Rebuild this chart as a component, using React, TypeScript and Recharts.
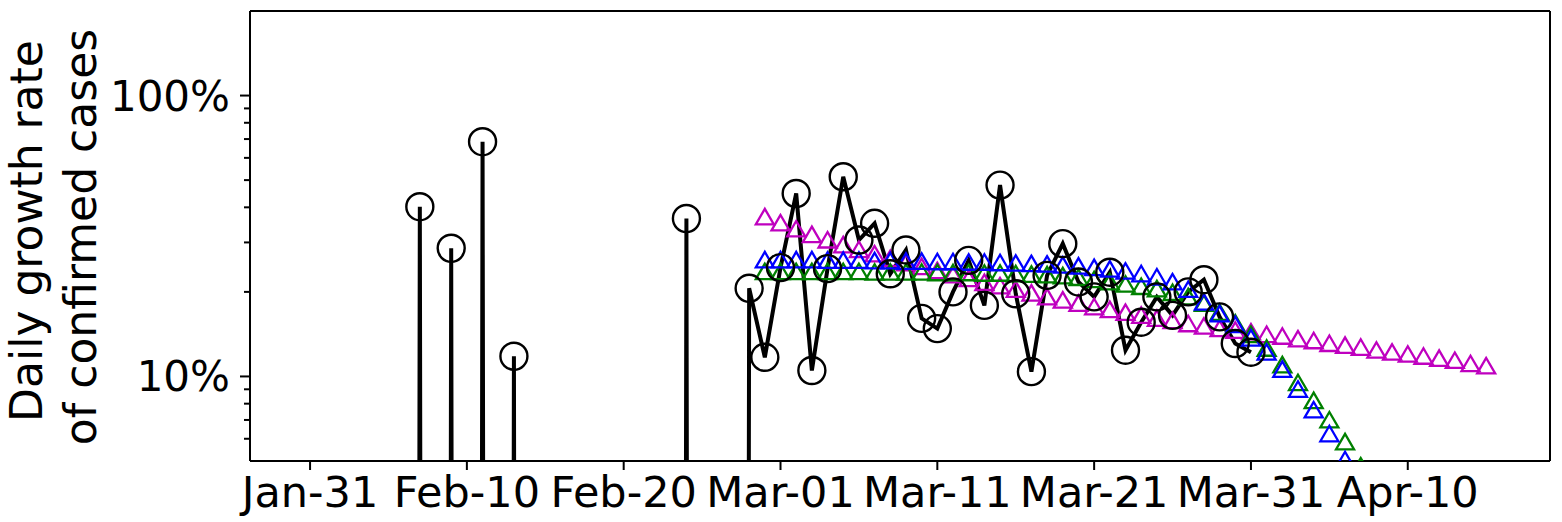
import { ComposedChart, Line, XAxis, YAxis } from "recharts";

// day 0 = Jan-31-2020, x positions are days since then
const ORIGIN = Date.UTC(2020, 0, 31);
const dayOf = (iso: string) => Math.round((Date.parse(iso) - ORIGIN) / 86400000);

const tickDays = [0, 10, 20, 30, 40, 50, 60, 70];
const tickLabels = ["Jan-31", "Feb-10", "Feb-20", "Mar-01", "Mar-11", "Mar-21", "Mar-31", "Apr-10"];
const majorY = [10, 100];
const minorY = [6, 7, 8, 9, 20, 30, 40, 50, 60, 70, 80, 90];

// observed daily growth (%), 0 = no growth that day
const observedStart = "2020-02-05";
const observed = [
  0, 0, 40.2, 0, 28.6, 0, 68.5, 0, 11.8,
  0, 0, 0, 0, 0, 0, 0, 0, 0, 0,
  36.5, 0, 0, 0, 20.6, 11.7,
  24.4, 44.8, 10.5, 24.2, 51.4, 30.6, 35.1, 23.2, 28.2, 16.1,
  14.8, 20.0, 25.9, 17.9, 48.0, 19.7, 10.4, 22.9, 29.7, 21.7,
  19.2, 23.5, 12.4, 15.6, 19.2, 16.5, 20.0, 22.1, 16.3, 13.1, 12.2,
];

const fitStart = "2020-02-29";
// magenta triangles
const fitMagenta = [
  37.0, 35.2, 33.5, 32.0, 30.6, 29.4, 28.3, 27.3, 26.3, 25.4, 24.6,
  23.8, 23.0, 22.3, 21.6, 21.0, 20.4, 19.8, 19.2, 18.7, 18.2,
  17.7, 17.3, 16.9, 16.5, 16.1, 15.8, 15.4, 15.1, 14.8, 14.6, 14.4,
  14.1, 13.9, 13.6, 13.4, 13.1, 12.9, 12.7, 12.4, 12.2, 12.0,
  11.8, 11.6, 11.4, 11.1, 10.9,
];
// blue triangles
const fitBlue = [
  26.0, 26.0, 26.0, 26.0, 25.9, 25.9, 25.9, 25.8, 25.8, 25.7, 25.7,
  25.6, 25.6, 25.5, 25.5, 25.4, 25.3, 25.2, 25.1, 24.9, 24.7,
  24.4, 24.1, 23.7, 23.2, 22.6, 21.7, 20.4, 18.4, 16.7, 15.3, 13.7,
  12.2, 10.6, 9.0, 7.6, 6.25, 5.05, 4.0,
];
// green triangles
const fitGreen = [
  23.6, 23.6, 23.6, 23.6, 23.6, 23.6, 23.6, 23.5, 23.5, 23.5, 23.5,
  23.4, 23.4, 23.4, 23.3, 23.3, 23.2, 23.1, 23.0, 22.8, 22.5,
  22.1, 21.7, 21.3, 20.9, 20.5, 19.9, 19.2, 18.2, 16.9, 15.5, 14.1,
  12.6, 11.0, 9.5, 8.2, 7.0, 5.85, 4.8,
];

// zero growth is drawn far below the axis like a clipped log plot
const LOG_FLOOR = 1e-30;

type Row = { day: number; obs?: number; raw?: number; mag?: number; blue?: number; green?: number };

function buildRows(): Row[] {
  const map = new Map<number, Row>();
  const get = (d: number) => {
    if (!map.has(d)) map.set(d, { day: d });
    return map.get(d)!;
  };
  const o0 = dayOf(observedStart);
  observed.forEach((v, i) => {
    const r = get(o0 + i);
    r.raw = v;
    r.obs = v > 0 ? v : LOG_FLOOR;
  });
  const f0 = dayOf(fitStart);
  fitMagenta.forEach((v, i) => (get(f0 + i).mag = v));
  fitBlue.forEach((v, i) => (get(f0 + i).blue = v));
  fitGreen.forEach((v, i) => (get(f0 + i).green = v));
  return [...map.values()].sort((a, b) => a.day - b.day);
}

const rows = buildRows();

const FONT = "DejaVu Sans";
const X_DOMAIN: [number, number] = [-3.83, 79.07];
const axisLine = { stroke: "#000", strokeWidth: 2 };

function triangle(color: string) {
  return (p: any) => {
    const { cx, cy } = p;
    if (cx == null || cy == null || !isFinite(cy)) return <g key={p.index} />;
    const pts = `${cx},${cy - 8} ${cx - 9},${cy + 7.5} ${cx + 9},${cy + 7.5}`;
    return <polygon key={p.index} points={pts} fill="none" stroke={color} strokeWidth={2.3} strokeLinejoin="miter" />;
  };
}

function circleDot(p: any) {
  const { cx, cy, payload } = p;
  if (!payload || !(payload.raw > 0) || cy == null) return <g key={p.index} />;
  return <circle key={p.index} cx={cx} cy={cy} r={13.5} fill="none" stroke="#000" strokeWidth={2.4} />;
}

function XTick(p: any) {
  const { x, y, payload } = p;
  const i = tickDays.indexOf(payload.value);
  return (
    <g>
      <line x1={x} x2={x} y1={y} y2={y + 9} stroke="#000" strokeWidth={2} />
      <text x={x} y={y + 46} textAnchor="middle" fontSize={43} fontFamily={FONT} fill="#000">
        {tickLabels[i]}
      </text>
    </g>
  );
}

function YTick(p: any) {
  const { x, y, payload } = p;
  const v = payload.value;
  const major = majorY.includes(v);
  return (
    <g>
      <line x1={x - (major ? 10 : 6)} x2={x} y1={y} y2={y} stroke="#000" strokeWidth={2} />
      {major && (
        <text x={x - 20} y={y + 15} textAnchor="end" fontSize={42} fontFamily={FONT} fill="#000">
          {v}%
        </text>
      )}
    </g>
  );
}

export default function App() {
  return (
    <div style={{ position: "absolute", left: 0, top: 0, width: 1562, height: 522, background: "#fff" }}>
      <ComposedChart width={1562} height={522} data={rows} margin={{ top: 10, right: 11, bottom: 1, left: 0 }}>
        <XAxis
          dataKey="day"
          type="number"
          domain={X_DOMAIN}
          allowDataOverflow
          ticks={tickDays}
          interval={0}
          height={60}
          tickSize={0}
          tickMargin={0}
          tickLine={false}
          tick={<XTick />}
          axisLine={axisLine}
        />
        <XAxis
          xAxisId="top"
          orientation="top"
          dataKey="day"
          type="number"
          domain={X_DOMAIN}
          allowDataOverflow
          height={1}
          tick={false}
          tickLine={false}
          axisLine={axisLine}
        />
        <YAxis
          type="number"
          scale="log"
          domain={[5, 200]}
          allowDataOverflow
          ticks={[...minorY, ...majorY].sort((a, b) => a - b)}
          interval={0}
          width={250}
          tickSize={0}
          tickMargin={0}
          tickLine={false}
          tick={<YTick />}
          axisLine={axisLine}
        />
        <YAxis
          yAxisId="right"
          orientation="right"
          type="number"
          domain={[0, 1]}
          width={1}
          tick={false}
          tickLine={false}
          axisLine={axisLine}
        />
        <Line dataKey="mag" stroke="none" dot={triangle("#bf00bf")} activeDot={false} isAnimationActive={false} />
        <Line dataKey="green" stroke="none" dot={triangle("#008000")} activeDot={false} isAnimationActive={false} />
        <Line dataKey="blue" stroke="none" dot={triangle("#0000ff")} activeDot={false} isAnimationActive={false} />
        <Line
          dataKey="obs"
          stroke="#000"
          strokeWidth={4}
          strokeLinejoin="miter"
          dot={circleDot}
          activeDot={false}
          isAnimationActive={false}
        />
      </ComposedChart>
      <svg width={120} height={522} style={{ position: "absolute", left: 0, top: 0 }}>
        <text transform="translate(42,231) rotate(-90)" textAnchor="middle" fontSize={44} fontFamily={FONT} fill="#000">
          Daily growth rate
        </text>
        <text transform="translate(96,237) rotate(-90)" textAnchor="middle" fontSize={44} fontFamily={FONT} fill="#000">
          of confirmed cases
        </text>
      </svg>
    </div>
  );
}
